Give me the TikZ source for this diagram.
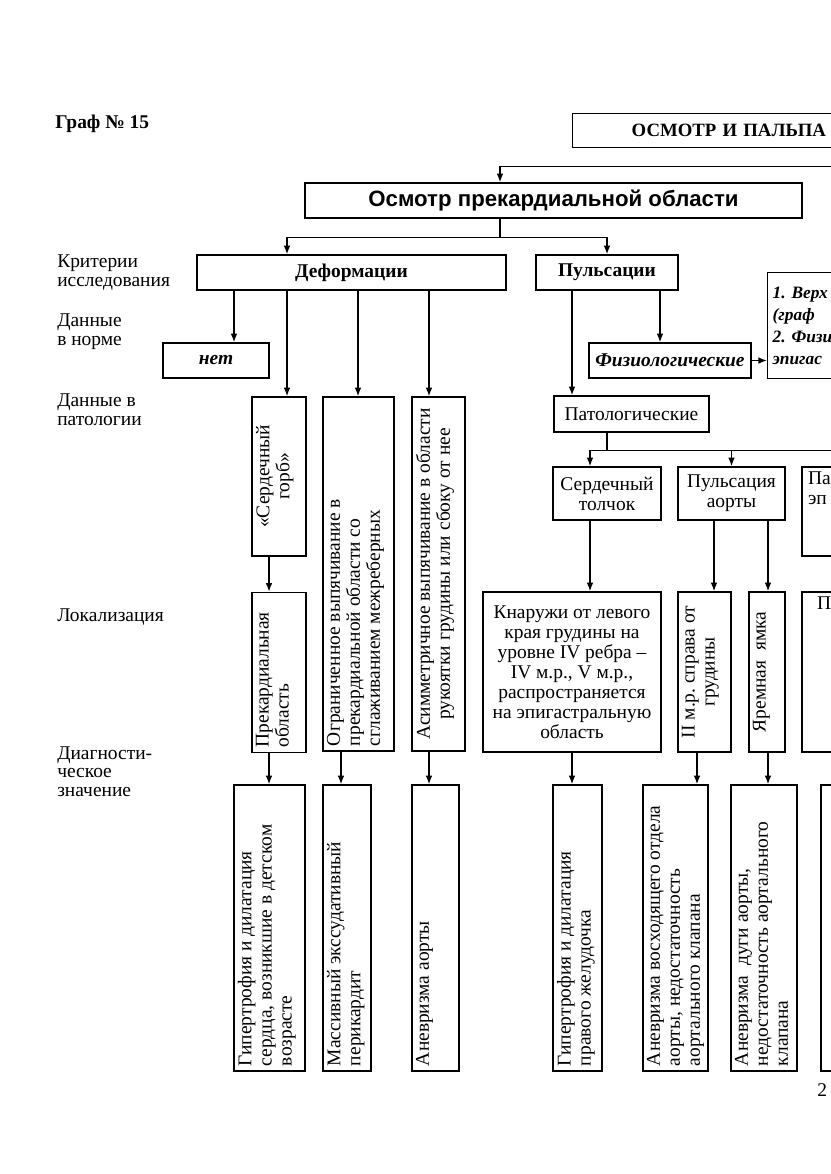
\documentclass[tikz,border=0pt]{standalone}
\usepackage{fontspec}
\setmainfont{Liberation Serif}
\newfontfamily\rubfont{Liberation Sans}
\usepackage{graphicx}
\usetikzlibrary{arrows.meta,positioning,calc}
\frenchspacing
\newlength\pxu
\setlength\pxu{0.0253cm}
\newcommand{\tekst}{\fontsize{14}{14.4}\selectfont}
\newcommand{\metfont}{\fontsize{14}{13}\selectfont}
\newcommand{\vtxt}[3]{\rotatebox{90}{\parbox[c][#1\pxu][t]{#2\pxu}{#3}}}
\tikzset{
  blok/.style 2 args={draw, line width=1pt, inner sep=0pt, minimum width=#1\pxu,
    minimum height=#2\pxu, align=center, font=\tekst},
  shapka/.style={font=\tekst\bfseries},
  kursiv/.style={font=\tekst\bfseries\itshape},
  metka/.style={anchor=base west, align=left, inner sep=0pt, font=\metfont},
  strelka/.style={-{Latex[length=2.2mm, width=1.7mm]}, line width=1pt},
  linia/.style={line width=1pt},
}
\begin{document}
\begin{tikzpicture}[x=0.0253cm, y=-0.0253cm]
  \useasboundingbox (0,0) rectangle (831,1174);
  \clip (0,0) rectangle (831,1174);
  % заголовки
  \node[anchor=base west, inner sep=0pt, font=\tekst\bfseries] (graf) at (55,128) {Граф № 15};
  \node[draw, linia, anchor=north west, minimum height=34\pxu, inner xsep=59\pxu,
    text width=15cm, align=left, font=\fontsize{13.5}{14}\selectfont\bfseries] (osnova) at (572,113) {ОСМОТР И ПАЛЬПА};
  \node[blok={497}{35}, font=\rubfont\bfseries\fontsize{16}{18}\selectfont] (osmotr) at (553.5,200.5) {Осмотр прекардиальной области};
  % критерии
  \node[blok={309}{35}, shapka] (deform) at (351.5,272.5) {Деформации};
  \node[blok={142}{35}, shapka] (puls) at (607,272.5) {Пульсации};
  \node[blok={106}{35}, kursiv] (net) at (216,360.5) {нет};
  \node[blok={162}{35}, kursiv] (fiziol) at (670,360.5) {Физиологические};
  \node[draw, linia, anchor=north west, minimum height=106\pxu, inner xsep=5\pxu, text width=8cm,
    align=left, font=\fontsize{12.5}{15.8}\selectfont\bfseries\itshape] (verh) at (767,272) {1. Верх\\(граф\\2. Физи\\эпигас};
  \node[blok={155}{36}] (patol) at (631.5,414) {Патологические};
  \node[blok={108}{53}] (serdt) at (607,493.5) {Сердечный\\толчок};
  \node[blok={107}{53}] (pulsa) at (731.5,493.5) {Пульсация\\аорты};
  \node[blok={128}{89}] (patE) at (866,511.5) {\parbox[c][80\pxu][t]{116\pxu}{Па\\эп}};
  % деформации
  \node[blok={54}{159}] (gorb) at (279,476.5) {\vtxt{46}{149}{\centering «Сердечный\\горб»}};
  \node[blok={54}{160}, below=35\pxu of gorb] (prekard) {\vtxt{46}{150}{\raggedright Прекардиальная\\область}};
  \node[blok={71}{354}] (ogran) at (358.5,574) {\vtxt{63}{344}{\raggedright Ограниченное выпячивание в\\прекардиальной области со\\сглаживанием межреберных}};
  \node[blok={53}{354}] (asym) at (438.5,574) {\vtxt{45}{344}{\centering Асимметричное выпячивание в области\\рукоятки грудины или сбоку от нее}};
  % локализация
  \node[blok={178}{160}] (knar) at (572,672) {Кнаружи от левого\\края грудины на\\уровне IV ребра –\\IV м.р., V м.р.,\\распространяется\\на эпигастральную\\область};
  \node[blok={53}{160}] (imr) at (704.5,672) {\vtxt{45}{150}{\centering II м.р. справа от\\грудины}};
  \node[blok={36}{160}] (yarem) at (767,672) {\vtxt{28}{150}{\centering Яремная\ \ ямка}};
  \node[blok={128}{160}] (patL) at (866,672) {\parbox[c][150\pxu][t]{98\pxu}{П}};
  % диагностическое значение
  \node[blok={71}{286}] (gipert) at (269.5,928) {\vtxt{63}{276}{\raggedright Гипертрофия и дилатация\\сердца, возникшие в детском\\возрасте}};
  \node[blok={48}{286}] (perik) at (347,928) {\vtxt{40}{276}{\raggedright Массивный экссудативный\\перикардит}};
  \node[blok={47}{286}] (anevr) at (435.5,928) {\vtxt{39}{276}{\raggedright Аневризма аорты}};
  \node[blok={49}{286}] (gipprav) at (577.5,928) {\vtxt{41}{276}{\raggedright Гипертрофия и дилатация\\правого желудочка}};
  \node[blok={65}{286}] (voshod) at (675.5,928) {\vtxt{57}{276}{\raggedright Аневризма восходящего отдела\\аорты, недостаточность\\аортального клапана}};
  \node[blok={66}{286}] (duga) at (764,928) {\vtxt{58}{276}{\raggedright Аневризма\ \ дуги аорты,\\недостаточность аортального\\клапана}};
  \node[blok={66}{286}] (posl) at (854,928) {};
  \node[anchor=base west, inner sep=0pt, font=\tekst] (stran) at (817,1096) {2};
  % подписи слева
  \node[metka] (krit) at (57,286) {Критерии\\исследования};
  \node[metka] (norma) at (57,345) {Данные\\в норме};
  \node[metka] (patlab) at (57,425) {Данные в\\патологии};
  \node[metka] (lokal) at (57,621) {Локализация};
  \node[metka] (diagn) at (57,796) {Диагности-\\ческое\\значение};
  % связи
  \draw[strelka] (osnova.south) -- ++(0,18) -| (osmotr.north -| 500,0);
  \draw[linia] (osmotr.south -| 500,0) -- ++(0,19) coordinate (razv1);
  \draw[strelka] (razv1) -| (deform.north -| 287,0);
  \draw[strelka] (razv1) -| (puls.north);
  \draw[strelka] (deform.south -| 234,0) -- (net.north -| 234,0);
  \draw[strelka] (deform.south -| 287,0) -- (gorb.north -| 287,0);
  \draw[strelka] (deform.south -| 358,0) -- (ogran.north -| 358,0);
  \draw[strelka] (deform.south -| 429,0) -- (asym.north -| 429,0);
  \draw[strelka] (puls.south -| 572,0) -- (patol.north -| 572,0);
  \draw[strelka] (puls.south -| 660,0) -- (fiziol.north -| 660,0);
  \draw[strelka] (fiziol) -- (fiziol -| verh.west);
  \draw[linia] (patol.south -| 607,0) -- ++(0,18) coordinate (razv2);
  \draw[strelka] (razv2) -| (serdt.north -| 590,0);
  \draw[strelka] (razv2) -| (pulsa.north);
  \draw[strelka] (razv2) -| (patE.north);
  \draw[strelka] (serdt.south -| 590,0) -- (knar.north -| 590,0);
  \draw[strelka] (pulsa.south -| 714,0) -- (imr.north -| 714,0);
  \draw[strelka] (pulsa.south -| 768,0) -- (yarem.north -| 768,0);
  \draw[strelka] (gorb.south -| 269,0) -- (prekard.north -| 269,0);
  \draw[strelka] (prekard.south -| 269,0) -- (gipert.north -| 269,0);
  \draw[strelka] (ogran.south -| 341,0) -- (perik.north -| 341,0);
  \draw[strelka] (asym.south -| 429,0) -- (anevr.north -| 429,0);
  \draw[strelka] (knar.south -| 572,0) -- (gipprav.north -| 572,0);
  \draw[strelka] (imr.south -| 697,0) -- (voshod.north -| 697,0);
  \draw[strelka] (yarem.south -| 768,0) -- (duga.north -| 768,0);
\end{tikzpicture}
\end{document}
